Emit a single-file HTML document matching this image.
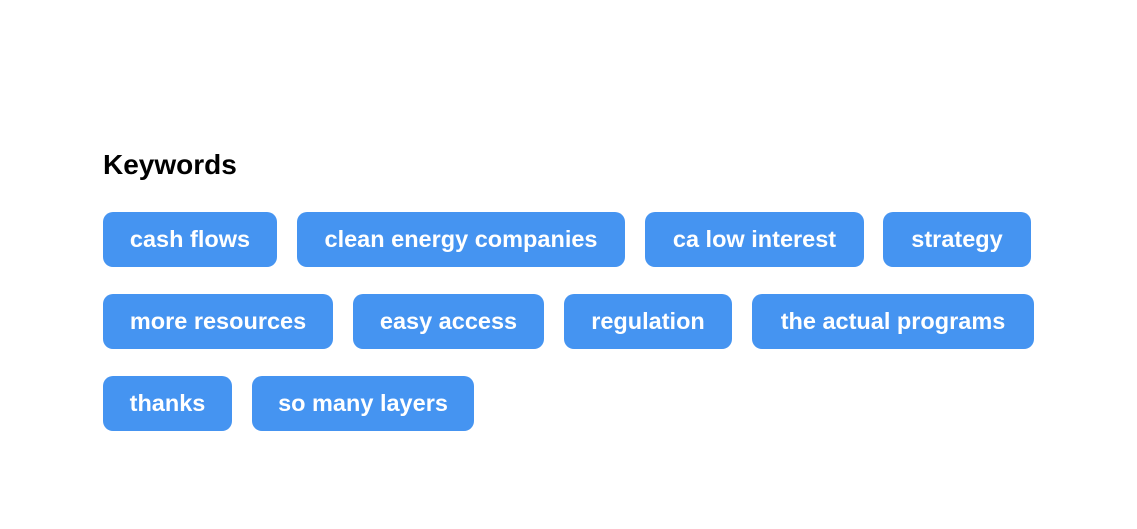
<!DOCTYPE html>
<html><head><style>
html,body{margin:0;padding:0;width:1137px;height:529px;background:#fff;overflow:hidden}
h1{position:absolute;left:103px;top:149px;margin:0;font:bold 28px "Liberation Sans",sans-serif;line-height:32px;color:#000}
.t{position:absolute;height:55px;background:#4594f1;color:#fff;border-radius:10px;text-align:center;font:bold 23.5px "Liberation Sans",sans-serif;line-height:55px}
</style></head><body>
<h1>Keywords</h1>
<div class="t" style="left:103px;top:212px;width:174px">cash flows</div>
<div class="t" style="left:297px;top:212px;width:328px">clean energy companies</div>
<div class="t" style="left:645px;top:212px;width:219px">ca low interest</div>
<div class="t" style="left:883px;top:212px;width:148px">strategy</div>
<div class="t" style="left:103px;top:294px;width:230px">more resources</div>
<div class="t" style="left:353px;top:294px;width:191px">easy access</div>
<div class="t" style="left:564px;top:294px;width:168px">regulation</div>
<div class="t" style="left:752px;top:294px;width:282px">the actual programs</div>
<div class="t" style="left:103px;top:376px;width:129px">thanks</div>
<div class="t" style="left:252px;top:376px;width:222px">so many layers</div>
</body></html>
